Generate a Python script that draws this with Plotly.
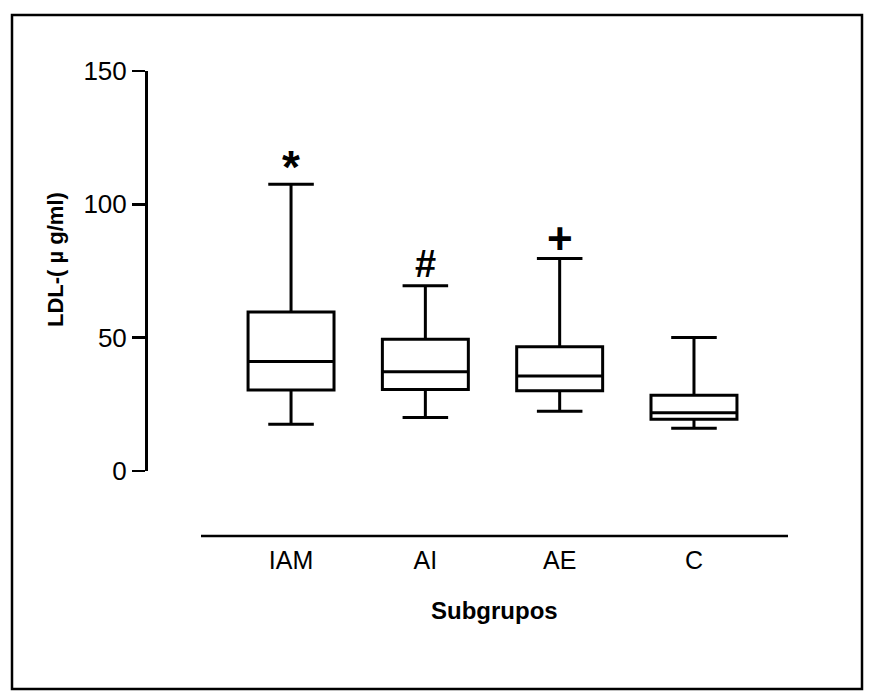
import plotly.graph_objects as go

groups = ["IAM", "AI", "AE", "C"]
upper = [107.5, 69.5, 79.7, 50.1]
q3 = [59.6, 49.4, 46.6, 28.4]
median = [41.1, 37.2, 35.6, 21.8]
q1 = [30.4, 30.6, 30.1, 19.4]
lower = [17.5, 20.1, 22.4, 16.0]
marks = ["*", "#", "+", ""]
y_ticks = [0, 50, 100, 150]

FONT = "Liberation Sans, Arial, sans-serif"

fig = go.Figure()
for i, g in enumerate(groups):
    fig.add_trace(go.Box(
        x=[g], q1=[q1[i]], median=[median[i]], q3=[q3[i]],
        lowerfence=[lower[i]], upperfence=[upper[i]],
        width=0.64, whiskerwidth=0.53,
        fillcolor="white", line=dict(color="black", width=3),
        boxpoints=False, hoverinfo="skip", showlegend=False,
    ))

mark_size = [46, 38, 44, 30]
mark_shift = [17, 22, 20, 20]
annotations = []
for i, g in enumerate(groups):
    if marks[i]:
        annotations.append(dict(
            x=g, y=upper[i], xref="x", yref="y", text="<b>%s</b>" % marks[i],
            showarrow=False, yanchor="middle", yshift=mark_shift[i],
            font=dict(family=FONT, size=mark_size[i], color="black"),
        ))

annotations.append(dict(
    x=(494 - 148) / 640, y=(471 - 610) / 400, xref="paper", yref="paper",
    text="<b>Subgrupos</b>", showarrow=False, xanchor="center", yanchor="middle",
    font=dict(family=FONT, size=24, color="black"),
))
annotations.append(dict(
    x=(55 - 148) / 640, y=(471 - 260) / 400, xref="paper", yref="paper",
    text="<b>LDL-( \u00b5 g/ml)</b>", showarrow=False, textangle=-90,
    xanchor="center", yanchor="middle",
    font=dict(family=FONT, size=22, color="black"),
))

shapes = [
    dict(type="line", xref="paper", yref="paper",
         x0=(201 - 148) / 640, x1=1.0, y0=(471 - 536) / 400, y1=(471 - 536) / 400,
         line=dict(color="black", width=2.5)),
    dict(type="rect", xref="paper", yref="paper",
         x0=(12 - 148) / 640, x1=(862 - 148) / 640,
         y0=(471 - 689) / 400, y1=(471 - 15) / 400,
         line=dict(color="black", width=2.5), fillcolor="rgba(0,0,0,0)"),
]

fig.update_layout(
    width=869, height=692,
    margin=dict(l=148, r=869 - 788, t=71, b=692 - 471),
    paper_bgcolor="white", plot_bgcolor="white",
    annotations=annotations, shapes=shapes,
    font=dict(family=FONT, color="black"),
    xaxis=dict(
        type="category", categoryorder="array", categoryarray=groups,
        range=[-1.065, 3.70], showline=False, showgrid=False, zeroline=False,
        ticks="", ticklabelstandoff=72,
        tickfont=dict(family=FONT, size=25, color="black"),
    ),
    yaxis=dict(
        range=[0, 150], tickvals=y_ticks, ticktext=[str(v) for v in y_ticks],
        showline=True, linecolor="black", linewidth=3,
        ticks="outside", ticklen=13, tickwidth=2.5, tickcolor="black",
        showgrid=False, zeroline=False,
        tickfont=dict(family=FONT, size=26, color="black"),
    ),
)

fig.write_html(
    "out.html",
    config={"displayModeBar": False, "staticPlot": True},
    post_script="document.body.style.margin='0';document.body.style.overflow='hidden';",
)
